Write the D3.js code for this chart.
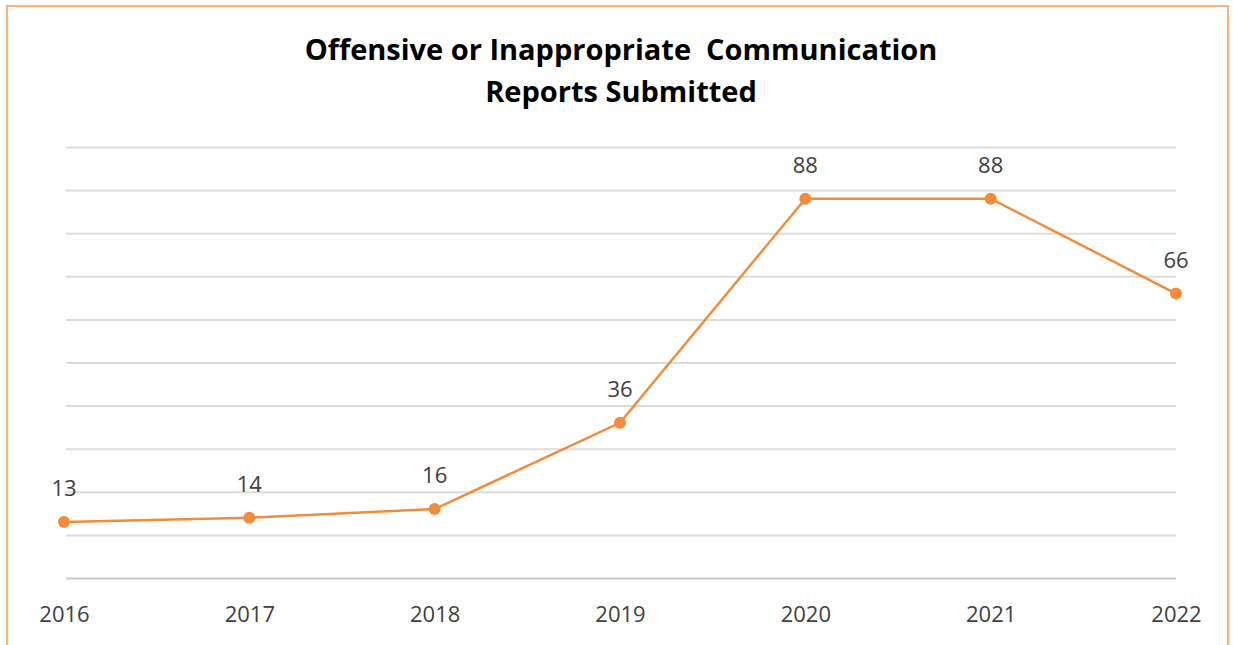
<html>
<head>
<script src="https://d3js.org/d3.v7.min.js"></script>
<style>
body { margin: 0; background: #fff; }
</style>
</head>
<body>
<svg id="chart" width="1233" height="645"></svg>
<script>
const years = ['2016', '2017', '2018', '2019', '2020', '2021', '2022'];
const reports = [13, 14, 16, 36, 88, 88, 66];
const gridTicks = [0, 10, 20, 30, 40, 50, 60, 70, 80, 90, 100];
const titleLines = ['Offensive or Inappropriate  Communication', 'Reports Submitted'];

const svg = d3.select('svg#chart');
const width = +svg.attr('width');
const height = +svg.attr('height');
const margins = {top: 147, right: 57, bottom: 67, left: 64};
const chartWidth = width - margins.left - margins.right;
const chartHeight = height - margins.top - margins.bottom;
const orange = '#f28c3c';

// frame
svg.append('rect')
    .attr('x', 7).attr('y', 6)
    .attr('width', 1221).attr('height', 660)
    .attr('fill', 'none')
    .attr('stroke', '#f9b27a')
    .attr('stroke-width', 2);

const x = d3.scalePoint().domain(years).range([0, chartWidth]);
const y = d3.scaleLinear().domain([0, 100]).range([chartHeight, 0]);

const chartArea = svg.append('g')
    .attr('transform', `translate(${margins.left},${margins.top})`);

// gridlines
const grid = d3.axisLeft(y).tickValues(gridTicks).tickSize(-(chartWidth - 2)).tickFormat('');
chartArea.append('g')
    .attr('class', 'gridlines')
    .attr('transform', 'translate(2,0)')
    .call(grid)
    .call(g => g.select('.domain').remove())
    .call(g => g.selectAll('line')
        .attr('stroke', d => d === 0 ? '#c8c8c8' : '#dcdcdc')
        .attr('stroke-width', 2));

// x axis labels
const bottomAxis = d3.axisBottom(x).tickSize(0).tickPadding(28);
chartArea.append('g')
    .attr('transform', `translate(0,${chartHeight})`)
    .call(bottomAxis)
    .call(g => g.select('.domain').remove())
    .call(g => g.selectAll('text')
        .attr('font-family', 'Open Sans, sans-serif')
        .attr('font-size', '22px')
        .attr('fill', '#404040'));

// line
const line = d3.line()
    .x((d, i) => x(years[i]))
    .y(d => y(d));

chartArea.append('path')
    .datum(reports)
    .attr('d', line)
    .attr('fill', 'none')
    .attr('stroke', orange)
    .attr('stroke-width', 2.5);

chartArea.selectAll('circle.pt')
    .data(reports)
    .join('circle')
    .attr('class', 'pt')
    .attr('cx', (d, i) => x(years[i]))
    .attr('cy', d => y(d))
    .attr('r', 6)
    .attr('fill', orange);

chartArea.selectAll('text.val')
    .data(reports)
    .join('text')
    .attr('class', 'val')
    .attr('x', (d, i) => x(years[i]))
    .attr('y', d => y(d) - 26)
    .attr('text-anchor', 'middle')
    .attr('font-family', 'Open Sans, sans-serif')
    .attr('font-size', '22px')
    .attr('fill', '#404040')
    .text(d => d);

// title
svg.selectAll('text.title')
    .data(titleLines)
    .join('text')
    .attr('class', 'title')
    .attr('x', 621)
    .attr('y', (d, i) => 60 + i * 42)
    .attr('text-anchor', 'middle')
    .attr('font-family', 'Open Sans, sans-serif')
    .attr('font-weight', 'bold')
    .attr('font-size', '29px')
    .attr('fill', '#000')
    .attr('xml:space', 'preserve')
    .style('white-space', 'pre')
    .text(d => d);
</script>
</body>
</html>
